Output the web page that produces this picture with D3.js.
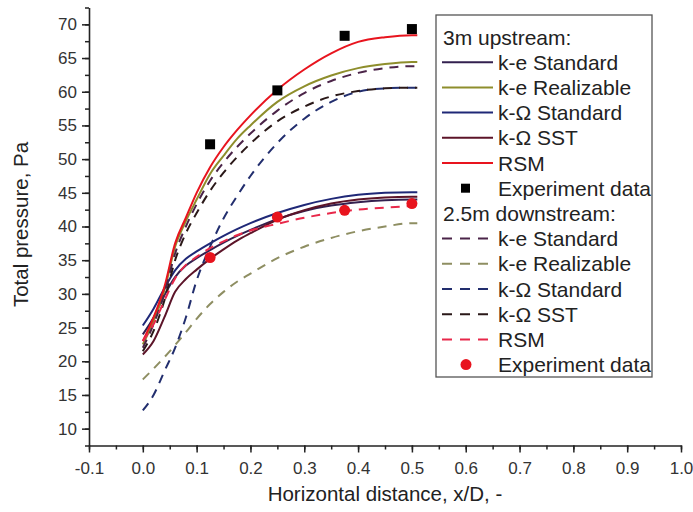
<!DOCTYPE html>
<html>
<head>
<meta charset="utf-8">
<script src="https://cdn.jsdelivr.net/npm/d3@7/dist/d3.min.js"></script>
<style>
  html, body { margin: 0; padding: 0; background: #fff; }
  svg { display: block; font-family: "Liberation Sans", Arial, sans-serif; }
</style>
</head>
<body>
<svg id="chart" width="693" height="512"></svg>
<script>
// Sample positions along x/D for every simulated profile
const xs = [0, 0.02, 0.04, 0.06, 0.08, 0.1, 0.125, 0.15, 0.175, 0.2, 0.25, 0.3, 0.35, 0.4, 0.45, 0.5, 0.51];

// Simulated total pressure profiles (Pa)
const upKeRealizable = [22.5, 26, 30.5, 37, 40.8, 44, 47.8, 50.5, 53, 55, 58.5, 60.8, 62.4, 63.5, 64.1, 64.4, 64.4];
const upRsm         = [23, 26.5, 31, 37.5, 41.3, 45, 48.8, 51.8, 54.3, 56.5, 60.3, 63.3, 65.7, 67.4, 68.1, 68.4, 68.4];
const upKeStandard  = [24, 26.5, 29.8, 32.5, 34.2, 35.3, 36.5, 37.6, 38.6, 39.5, 41.1, 42.3, 43.1, 43.6, 43.9, 44.0, 44.0];
const upKwStandard  = [25.3, 27.8, 30.8, 33.5, 35.2, 36.3, 37.5, 38.6, 39.6, 40.5, 42, 43.2, 44.1, 44.7, 45, 45.1, 45.1];
const upKwSst       = [21, 23, 26.5, 30.3, 32.2, 33.6, 35.2, 36.6, 37.9, 39, 41, 42.4, 43.4, 44, 44.3, 44.4, 44.4];

const downKeStandard  = [22, 25.5, 30, 36, 40, 43.3, 46.8, 49.5, 51.8, 53.8, 57.2, 59.8, 61.6, 62.8, 63.5, 63.8, 63.8];
const downKeRealizable= [17.3, 18.9, 20.6, 22.4, 24.3, 26.3, 28.5, 30.3, 31.8, 33, 35.3, 37, 38.3, 39.3, 40, 40.5, 40.5];
const downKwStandard  = [12.7, 15, 18.5, 22, 26.5, 32, 37, 41.2, 44.5, 47.5, 52.4, 56, 58.5, 60, 60.5, 60.6, 60.6];
const downKwSst       = [21.5, 24.5, 29, 35, 39, 42, 45.3, 48, 50.3, 52.3, 55.6, 57.8, 59.3, 60.1, 60.5, 60.6, 60.6];
const downRsm         = [23, 25.5, 29, 32.3, 34.3, 35.5, 36.8, 37.8, 38.7, 39.4, 40.4, 41.3, 42, 42.5, 42.8, 43, 43];

// Measurements
const expX = [0.125, 0.25, 0.375, 0.5];
const expUp = [52.2, 60.2, 68.3, 69.3];
const expDown = [35.4, 41.4, 42.4, 43.4];

// Axis ticks
const xTicks = [-0.1, 0, 0.1, 0.2, 0.3, 0.4, 0.5, 0.6, 0.7, 0.8, 0.9, 1.0];
const yTicks = [10, 15, 20, 25, 30, 35, 40, 45, 50, 55, 60, 65, 70];

const legendNames = ["k-e Standard", "k-e Realizable", "k-\u03A9 Standard", "k-\u03A9 SST", "RSM"];

// Styling of each series
const series = [
  { name: "k-e Standard",   group: "up",   values: upKeStandard,    color: "#33204f", dash: null },
  { name: "k-e Realizable", group: "up",   values: upKeRealizable,  color: "#8e8e2c", dash: null },
  { name: "k-\u03A9 Standard", group: "up", values: upKwStandard,   color: "#1f2877", dash: null },
  { name: "k-\u03A9 SST",   group: "up",   values: upKwSst,         color: "#5c1429", dash: null },
  { name: "RSM",            group: "up",   values: upRsm,           color: "#e8141e", dash: null },
  { name: "k-e Standard",   group: "down", values: downKeStandard,  color: "#4b2448", dash: "9,7" },
  { name: "k-e Realizable", group: "down", values: downKeRealizable,color: "#8e8e62", dash: "9,7" },
  { name: "k-\u03A9 Standard", group: "down", values: downKwStandard, color: "#222e6e", dash: "9,7" },
  { name: "k-\u03A9 SST",   group: "down", values: downKwSst,       color: "#2a1818", dash: "9,7" },
  { name: "RSM",            group: "down", values: downRsm,         color: "#e8284a", dash: "9,7" }
];

const svg = d3.select("#chart");
const plotLeft = 89, plotRight = 681, plotTop = 7.5, plotBottom = 445.5;

const x = d3.scaleLinear().domain([-0.1, 1.0]).range([plotLeft, plotRight]);
const y = d3.scaleLinear().domain([7.5, 72.5]).range([plotBottom, plotTop]);

const axisColor = "#222";
// Tick labels use a plain hyphen for negatives
const fmtX = v => d3.format(".1f")(v).replace("\u2212", "-");

// Minor ticks
const xMinor = d3.range(-0.1, 1.0001, 0.05).map(v => +v.toFixed(2));
const yMinor = d3.range(7.5, 72.5001, 2.5);

const gx = svg.append("g").attr("transform", `translate(0,${plotBottom})`);
gx.call(d3.axisBottom(x).tickValues(xMinor).tickSize(4).tickFormat(""))
  .call(g => g.select(".domain").remove());
gx.append("g").call(d3.axisBottom(x).tickValues(xTicks).tickSize(7).tickSizeOuter(0).tickPadding(9)
    .tickFormat(fmtX));
gx.selectAll("line").attr("stroke", axisColor).attr("stroke-width", 1.5);
gx.selectAll(".domain").attr("stroke", axisColor).attr("stroke-width", 1.6);
gx.selectAll("text").attr("font-size", 17).attr("fill", "#333")
  .attr("font-family", "'Liberation Sans', Arial, sans-serif");

const gy = svg.append("g").attr("transform", `translate(${plotLeft},0)`);
gy.call(d3.axisLeft(y).tickValues(yMinor).tickSize(4).tickFormat(""))
  .call(g => g.select(".domain").remove());
gy.append("g").call(d3.axisLeft(y).tickValues(yTicks).tickSize(7).tickSizeOuter(0).tickPadding(5));
gy.selectAll("line").attr("stroke", axisColor).attr("stroke-width", 1.5);
gy.selectAll(".domain").attr("stroke", axisColor).attr("stroke-width", 1.6);
gy.selectAll("text").attr("font-size", 17).attr("fill", "#333")
  .attr("font-family", "'Liberation Sans', Arial, sans-serif");

// Axis titles
svg.append("text")
  .attr("x", (plotLeft + plotRight) / 2).attr("y", 501)
  .attr("text-anchor", "middle").attr("font-size", 20.5).attr("fill", "#222")
  .text("Horizontal distance, x/D, -");
svg.append("text")
  .attr("transform", `translate(28,${(plotTop + plotBottom) / 2 - 2}) rotate(-90)`)
  .attr("text-anchor", "middle").attr("font-size", 20.5).attr("fill", "#222")
  .text("Total pressure, Pa");

// Profiles
const line = d3.line()
  .x((d, i) => x(xs[i]))
  .y(d => y(d))
  .curve(d3.curveMonotoneX);

svg.append("g").selectAll("path")
  .data(series)
  .join("path")
  .attr("d", d => line(d.values))
  .attr("fill", "none")
  .attr("stroke", d => d.color)
  .attr("stroke-width", 2)
  .attr("stroke-dasharray", d => d.dash);

// Measured points
svg.append("g").selectAll("rect")
  .data(expUp)
  .join("rect")
  .attr("x", (d, i) => x(expX[i]) - 5)
  .attr("y", d => y(d) - 5)
  .attr("width", 10).attr("height", 10)
  .attr("fill", "#000");

svg.append("g").selectAll("circle")
  .data(expDown)
  .join("circle")
  .attr("cx", (d, i) => x(expX[i]))
  .attr("cy", d => y(d))
  .attr("r", 5.5)
  .attr("fill", "#e8141e");

// Legend
const lg = svg.append("g");
lg.append("rect")
  .attr("x", 436).attr("y", 15).attr("width", 216).attr("height", 362)
  .attr("fill", "#fff").attr("stroke", "#555").attr("stroke-width", 1.3);

const rowY = i => 37 + i * 25.2;
const fs = 21;
const addText = (tx, i, s) => lg.append("text")
  .attr("x", tx).attr("y", rowY(i) + 7.5).attr("font-size", fs).attr("fill", "#222").text(s);

const groups = [["up", "3m upstream:"], ["down", "2.5m downstream:"]];
groups.forEach(([g, title], gi) => {
  const base = gi * 7;
  addText(443, base, title);
  series.filter(s => s.group === g).forEach((s, k) => {
    const ry = rowY(base + 1 + k);
    lg.append("line")
      .attr("x1", 442).attr("x2", 493).attr("y1", ry).attr("y2", ry)
      .attr("stroke", s.color).attr("stroke-width", 2)
      .attr("stroke-dasharray", s.dash ? "10,8" : null);
    addText(498, base + 1 + k, legendNames[k]);
  });
  const my = rowY(base + 6);
  if (g === "up") {
    lg.append("rect").attr("x", 461).attr("y", my - 4.5).attr("width", 9).attr("height", 9).attr("fill", "#000");
  } else {
    lg.append("circle").attr("cx", 466).attr("cy", my).attr("r", 5.5).attr("fill", "#e8141e");
  }
  addText(498, base + 6, "Experiment data");
});
</script>
</body>
</html>
